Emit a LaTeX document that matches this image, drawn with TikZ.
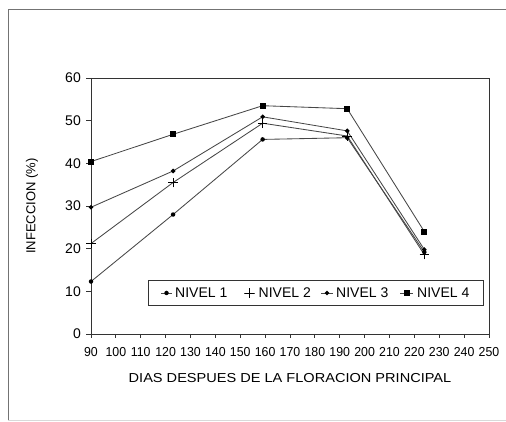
\documentclass[tikz,border=0pt]{standalone}
\usepackage{fontspec}
\setmainfont{Liberation Sans}
\usetikzlibrary{shapes.geometric,shapes.misc}
\begin{document}
\begin{tikzpicture}[x=1pt,y=1pt,
  serie/.style={draw=black!72, line width=0.85pt},
  axis/.style={draw=black!80, line width=0.8pt},
  mdot/.style={circle, fill=black, inner sep=0pt, minimum size=4.5pt},
  mdia/.style={diamond, fill=black, inner sep=0pt, minimum size=5pt},
  msq/.style={rectangle, fill=black, inner sep=0pt, minimum size=6pt},
  mplus/.style={cross out, draw=black, line width=0.8pt, rotate=45, inner sep=0pt, minimum size=6pt},
  ticklab/.style={font=\fontsize{13}{15}\selectfont, inner sep=0pt},
  leglab/.style={font=\fontsize{14}{16}\selectfont, anchor=west, inner sep=0pt}
  ]
\useasboundingbox (0,0) rectangle (506,422);
% outer frame
\draw[black!55, line width=0.9pt] (8,2) -- (8,413) -- (510,413);
\draw[black!15, line width=0.8pt] (8,2) -- (510,2);

\begin{scope}[shift={(91pt,88pt)}, x=2.4875pt, y=4.267pt]
  % axes and frame
  \draw[axis] (0,60) -- (0,0) -- (160,0) -- (160,60) -- (0,60);
  \foreach \v in {0,10,...,60} {
    \draw[axis] (0,\v) -- ++(-5pt,0);
    \node[ticklab, font=\fontsize{14}{16}\selectfont, anchor=east] (yl\v) at ([xshift=-10pt]0,\v) {\v};
  }
  \foreach \d in {0,10,...,160} {
    \draw[axis] (\d,0) -- ++(0,-4.5pt);
    \pgfmathtruncatemacro{\lab}{\d+90}
    \node[ticklab, xscale=0.95] (xl\d) at ([yshift=-18pt]\d,0) {\lab};
  }
  % data coordinates
  \coordinate (a1) at (0,12.3);  \coordinate (a2) at (33,28);   \coordinate (a3) at (69,45.6); \coordinate (a4) at (103,46);   \coordinate (a5) at (134,19.2);
  \coordinate (b1) at (0,21.2);  \coordinate (b2) at (33,35.5); \coordinate (b3) at (69,49.4); \coordinate (b4) at (103,46.4); \coordinate (b5) at (134,18.6);
  \coordinate (c1) at (0,29.7);  \coordinate (c2) at (33,38.2); \coordinate (c3) at (69,50.9); \coordinate (c4) at (103,47.6); \coordinate (c5) at (134,19.8);
  \coordinate (d1) at (0,40.4);  \coordinate (d2) at (33,46.8); \coordinate (d3) at (69,53.5); \coordinate (d4) at (103,52.8); \coordinate (d5) at (134,24);
  \draw[serie] (a1) -- (a2) -- (a3) -- (a4) -- (a5);
  \draw[serie] (b1) -- (b2) -- (b3) -- (b4) -- (b5);
  \draw[serie] (c1) -- (c2) -- (c3) -- (c4) -- (c5);
  \draw[serie] (d1) -- (d2) -- (d3) -- (d4) -- (d5);
  \foreach \p in {1,...,5} {
    \node[mdot] (ma\p) at (a\p) {};
    \node[mplus] (mb\p) at (b\p) {};
    \node[mdia] (mc\p) at (c\p) {};
    \node[msq] (md\p) at (d\p) {};
  }
\end{scope}

% axis titles
\node[font=\fontsize{13}{15}\selectfont, rotate=90, inner sep=0pt] (ytit) at (32,216) {INFECCION (\%)};
\node[font=\fontsize{13}{15}\selectfont, xscale=1.12, inner sep=0pt] (xtit) at (290,44) {DIAS DESPUES DE LA FLORACION PRINCIPAL};

% legend
\draw[axis] (148,116.5) rectangle (483,141.5);
\coordinate (l1a) at (161,129); \coordinate (l1b) at (172,129);
\coordinate (l2a) at (244,129); \coordinate (l2b) at (255,129);
\coordinate (l3a) at (321,129); \coordinate (l3b) at (333,129);
\coordinate (l4a) at (400,129); \coordinate (l4b) at (413,129);
\draw[serie] (l1a) -- (l1b);
\draw[serie] (l2a) -- (l2b);
\draw[serie] (l3a) -- (l3b);
\draw[serie] (l4a) -- (l4b);
\node[mdot] (lm1) at (166.5,129) {};
\node[mplus] (lm2) at (249.5,129) {};
\node[mdia] (lm3) at (327,129) {};
\node[msq] (lm4) at (406.5,129) {};
\node[leglab] (lt1) at (175,129) {NIVEL 1};
\node[leglab] (lt2) at (258.5,129) {NIVEL 2};
\node[leglab] (lt3) at (336,129) {NIVEL 3};
\node[leglab] (lt4) at (417,129) {NIVEL 4};
\end{tikzpicture}
\end{document}
